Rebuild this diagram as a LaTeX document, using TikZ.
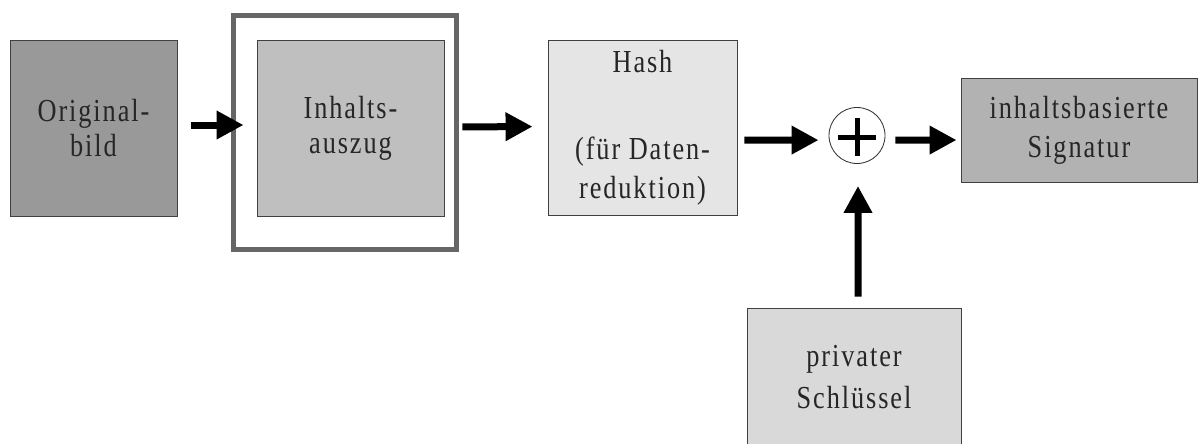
\documentclass[tikz,border=0pt]{standalone}
\usepackage{fontspec}
\setmainfont[FakeStretch=0.82,LetterSpace=6]{Liberation Serif}
\usetikzlibrary{arrows.meta}
\begin{document}
\begin{tikzpicture}[x=0.025cm,y=-0.025cm,
  every node/.style={font=\fontsize{22.8pt}{25pt}\selectfont,align=center,text=black!85,inner sep=0pt},
  blk/.style={draw=black!75,line width=0.6pt},
  flow/.style={line width=0.175cm,-{Triangle[length=0.675cm,width=0.675cm]}}]
\useasboundingbox (0,0) rectangle (1198,443);
\node[blk,fill=black!40,minimum width=4.175cm,minimum height=4.4cm] (orig) at (93.5,128) {Original-\\bild};
\node[draw=black!60,line width=0.125cm,minimum width=5.575cm,minimum height=5.85cm] (frame) at (345,132.5) {};
\node[blk,fill=black!25,minimum width=4.675cm,minimum height=4.4cm] (auszug) at (350.5,128) {Inhalts-\\auszug};
\node[blk,fill=black!10,minimum width=4.725cm,minimum height=4.375cm] (hash) at (642.5,127.5) {Hash\\[1.3cm](für Daten-\\[0.1cm]reduktion)};
\node[draw=black!80,line width=0.6pt,circle,minimum size=1.4cm] (plus) at (857,135.5) {};
\node[blk,fill=black!30,minimum width=5.9cm,minimum height=2.6cm] (sig) at (1079,130) {inhaltsbasierte\\[0.1cm]Signatur};
\node[blk,fill=black!15,minimum width=5.35cm,minimum height=3.45cm] (key) at (854,377) {privater\\[0.15cm]Schlüssel};
\draw[line width=0.125cm] ([xshift=-0.475cm,yshift=-0.04cm]plus.center) -- ([xshift=0.475cm,yshift=-0.04cm]plus.center);
\draw[line width=0.125cm] ([yshift=0.435cm]plus.center) -- ([yshift=-0.515cm]plus.center);
\draw[flow,shorten <=0.35cm,shorten >=0.325cm] ([yshift=0.075cm]orig.east) -- ([yshift=0.075cm]auszug.west);
\draw[flow,shorten <=0.45cm,shorten >=0.375cm] ([yshift=0.025cm]auszug.east) -- ([yshift=0.025cm]hash.west);
\draw[flow,shorten <=0.175cm,shorten >=0.25cm] ([yshift=-0.3125cm]hash.east) -- ([yshift=-0.115cm]plus.west);
\draw[flow,shorten <=0.25cm,shorten >=0.1cm] ([yshift=-0.115cm]plus.east) -- ([yshift=-0.25cm]sig.west);
\draw[flow,shorten <=0.275cm,shorten >=0.55cm] ([xshift=0.1cm]key.north) -- ([xshift=0.025cm]plus.south);
\end{tikzpicture}
\end{document}
